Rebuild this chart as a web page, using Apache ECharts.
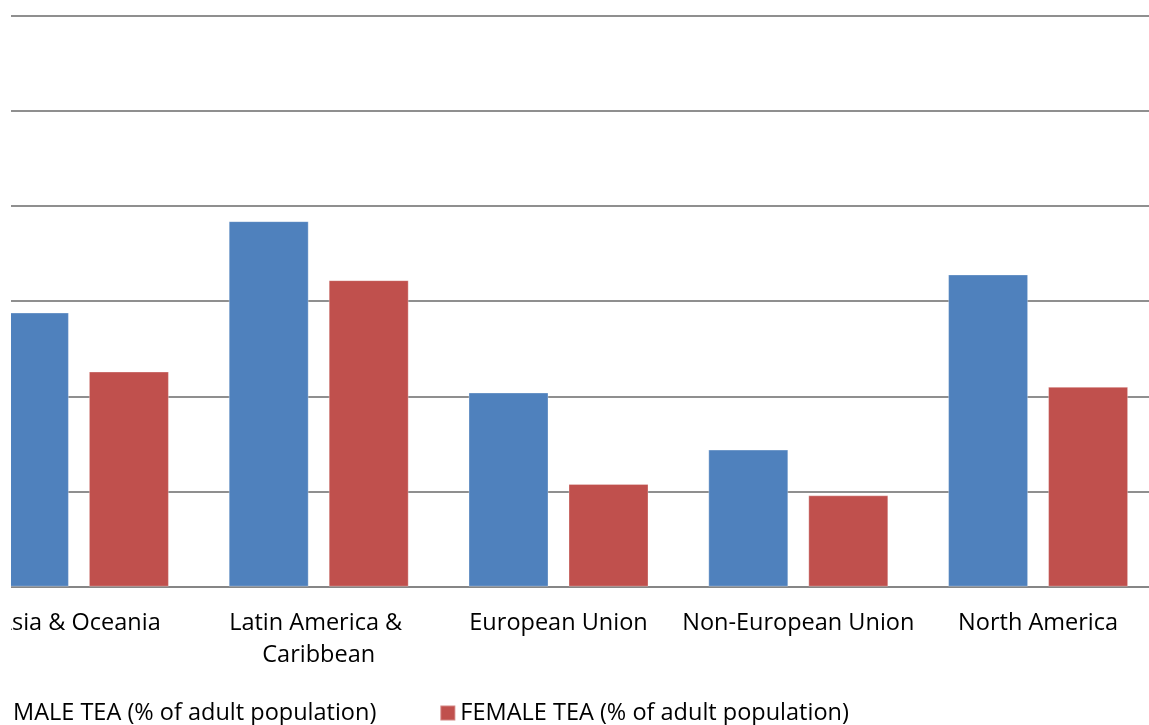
<!DOCTYPE html>
<html>
<head>
<meta charset="utf-8">
<script src="https://cdn.jsdelivr.net/npm/echarts@6/dist/echarts.min.js"></script>
<style>
  html, body { margin: 0; padding: 0; background: #fff; width: 1149px; height: 725px; overflow: hidden; }
  #frame { position: absolute; left: 11px; top: 0; width: 1138px; height: 725px; overflow: hidden; background: #fff; }
  #chart { position: absolute; left: -53px; top: 0; width: 1201px; height: 725px; }
</style>
</head>
<body>
<div id="frame"><div id="chart"></div></div>
<script>
// Early-stage entrepreneurial activity (TEA) by region and gender
const regions = ['Asia & Oceania', 'Latin America & Caribbean', 'European Union', 'Non-European Union', 'North America'];
const maleTea = [14.4, 19.2, 10.2, 7.2, 16.4];
const femaleTea = [11.3, 16.1, 5.4, 4.8, 10.5];
const seriesNames = ['MALE TEA (% of adult population)', 'FEMALE TEA (% of adult population)'];
const yMin = 0, yMax = 30, yStep = 5;

const FONT = '"Open Sans", sans-serif';
const chart = echarts.init(document.getElementById('chart'), null, { renderer: 'canvas' });

chart.setOption({
  animation: false,
  backgroundColor: '#ffffff',
  color: ['#4F81BD', '#C0504D'],
  grid: { left: 0, right: 1, top: 15.5, bottom: 138.3, containLabel: false },
  legend: {
    left: 29,
    top: 696,
    itemWidth: 15,
    itemHeight: 15,
    itemGap: 63,
    icon: 'rect',
    textStyle: { fontFamily: FONT, fontSize: 23.5, color: '#000' },
    data: seriesNames
  },
  xAxis: {
    type: 'category',
    data: regions,
    axisTick: { show: false },
    axisLine: { show: true, lineStyle: { color: '#868686', width: 2 } },
    axisLabel: {
      interval: 0,
      margin: 21,
      fontFamily: FONT,
      fontSize: 23.5,
      color: '#000',
      lineHeight: 32,
      width: 236,
      overflow: 'break'
    }
  },
  yAxis: {
    type: 'value',
    min: yMin,
    max: yMax,
    interval: yStep,
    axisLabel: { show: false },
    axisLine: { show: false },
    axisTick: { show: false },
    splitLine: { lineStyle: { color: '#8f8f8f', width: 2 } }
  },
  series: [
    {
      name: seriesNames[0],
      type: 'bar',
      data: maleTea,
      barWidth: 80,
      barGap: '25%',
      itemStyle: { borderColor: 'rgba(255,255,255,0.3)', borderWidth: 1 }
    },
    {
      name: seriesNames[1],
      type: 'bar',
      data: femaleTea,
      barWidth: 80,
      itemStyle: { borderColor: 'rgba(255,255,255,0.3)', borderWidth: 1 }
    }
  ]
});
</script>
</body>
</html>
